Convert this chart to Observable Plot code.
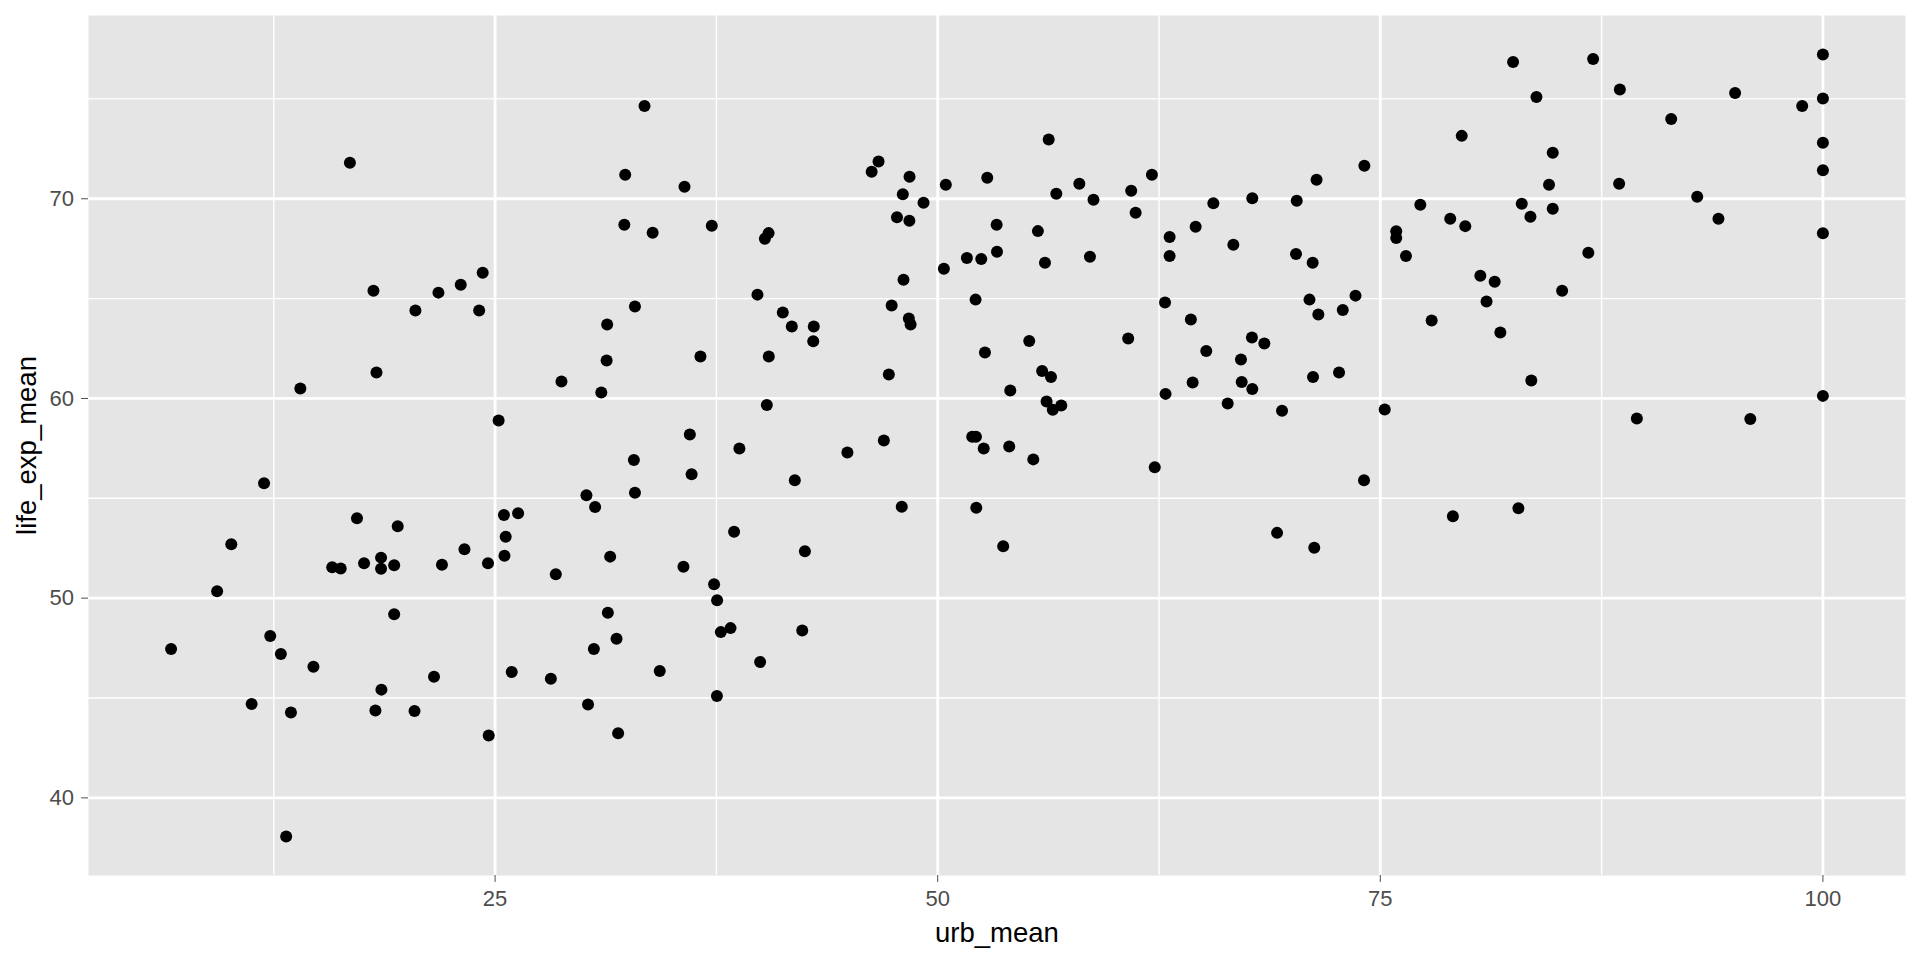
<!DOCTYPE html>
<html>
<head>
<meta charset="utf-8">
<script src="https://cdn.jsdelivr.net/npm/d3@7"></script>
<script src="https://cdn.jsdelivr.net/npm/@observablehq/plot@0.6"></script>
<style>
  html, body { margin: 0; padding: 0; background: #ffffff; }
  #chart svg { display: block; font-family: "Liberation Sans", Arial, sans-serif; }
</style>
</head>
<body>
<div id="chart"></div>
<script>
const urb_mean = [
  6.7, 9.3, 10.1, 11.25, 11.95, 12.3, 12.9, 13.2, 13.47, 14.0,
  14.74, 15.8, 16.28, 16.8, 17.2, 17.6, 18.13, 18.24, 18.3, 18.56,
  18.56, 18.58, 19.3, 19.3, 19.5, 20.5, 20.45, 21.55, 21.8, 22.0,
  23.06, 23.27, 24.3, 24.1, 24.6, 24.64, 25.2, 25.5, 25.53, 25.6,
  25.94, 26.3, 28.15, 28.43, 28.75, 30.16, 30.25, 30.58, 30.65, 31.0,
  31.3, 31.33, 31.37, 31.5, 31.86, 31.95, 32.3, 32.35, 32.84, 32.9,
  32.9, 33.44, 33.9, 34.3, 35.7, 35.64, 36.0, 36.1, 36.6, 37.24,
  37.37, 37.53, 37.54, 37.75, 38.3, 38.5, 38.8, 39.82, 39.97, 40.24,
  40.45, 40.35, 40.46, 41.25, 41.76, 41.93, 42.35, 42.5, 43.0, 42.97,
  44.9, 46.27, 46.66, 46.96, 47.4, 47.24, 47.7, 48.03, 48.07, 47.97,
  48.41, 48.37, 48.47, 48.4, 49.2, 50.35, 50.46, 51.65, 51.95, 52.16,
  52.14, 52.18, 52.46, 52.6, 52.67, 52.8, 53.33, 53.35, 53.7, 54.04,
  54.1, 55.17, 55.4, 55.66, 55.9, 56.06, 56.15, 56.27, 56.4, 56.5,
  56.7, 56.98, 58.0, 58.6, 58.8, 60.76, 60.93, 61.18, 62.1, 62.26,
  62.84, 62.87, 63.1, 63.1, 64.3, 64.4, 64.57, 65.17, 65.57, 66.38,
  66.7, 67.13, 67.17, 67.77, 67.77, 67.75, 68.45, 69.17, 69.45, 70.28,
  70.24, 71.0, 71.18, 71.2, 71.27, 71.4, 71.5, 72.67, 72.88, 73.6,
  74.1, 74.08, 75.25, 75.9, 75.9, 76.45, 77.26, 77.9, 79.1, 78.95,
  79.6, 79.8, 80.65, 81.0, 81.46, 81.78, 82.5, 82.8, 82.99, 83.48,
  83.53, 83.82, 84.53, 84.74, 84.74, 85.27, 86.75, 87.02, 88.53, 88.49,
  89.49, 91.43, 92.9, 94.1, 95.04, 95.9, 98.83, 100, 100, 100,
  100, 100, 100
];
const life_exp_mean = [
  47.45, 50.35, 52.7, 44.7, 55.75, 48.1, 47.2, 38.07, 44.27, 60.5,
  46.57, 51.55, 51.48, 71.8, 54.0, 51.75, 65.4, 44.37, 61.3, 52.03,
  51.47, 45.42, 51.65, 49.2, 53.6, 64.4, 44.35, 46.07, 65.3, 51.67,
  65.7, 52.45, 66.3, 64.4, 51.75, 43.12, 58.9, 54.17, 52.12, 53.08,
  46.3, 54.25, 45.97, 51.2, 60.85, 55.15, 44.68, 47.45, 54.57, 60.3,
  61.9, 63.7, 49.27, 52.08, 47.97, 43.23, 68.7, 71.2, 56.92, 55.28,
  64.6, 74.65, 68.3, 46.35, 70.6, 51.57, 58.2, 56.2, 62.1, 68.65,
  50.7, 45.1, 49.9, 48.3, 48.5, 53.33, 57.5, 65.2, 46.8, 68.0,
  68.28, 59.67, 62.1, 64.3, 63.6, 55.9, 48.38, 52.35, 63.6, 62.87,
  57.3, 71.35, 71.87, 57.9, 64.65, 61.2, 69.07, 70.23, 65.95, 54.58,
  71.1, 64.0, 63.7, 68.9, 69.8, 66.5, 70.7, 67.03, 58.08, 58.08,
  64.95, 54.53, 66.98, 57.5, 62.3, 71.05, 68.7, 67.35, 52.6, 57.6,
  60.4, 62.88, 56.95, 68.38, 61.38, 66.8, 59.85, 72.97, 61.07, 59.43,
  70.25, 59.65, 70.75, 67.1, 69.95, 63.0, 70.4, 69.3, 71.2, 56.55,
  64.8, 60.23, 67.13, 68.08, 63.95, 60.8, 68.6, 62.38, 69.77, 59.75,
  67.7, 61.95, 60.83, 60.47, 70.03, 63.05, 62.75, 53.27, 59.38, 69.9,
  67.23, 64.95, 66.8, 61.08, 52.53, 70.95, 64.2, 61.3, 64.43, 65.15,
  71.65, 55.9, 59.45, 68.37, 68.03, 67.13, 69.7, 63.9, 54.1, 69.0,
  73.15, 68.63, 66.15, 64.85, 65.85, 63.3, 76.85, 54.5, 69.75, 69.1,
  60.9, 75.1, 70.7, 72.3, 69.5, 65.4, 67.3, 77.0, 75.47, 70.75,
  59.0, 74.0, 70.1, 69.0, 75.3, 58.97, 74.65, 77.22, 75.02, 72.8,
  71.43, 68.27, 60.13
];
const xTicks = [25, 50, 75, 100];
const xMinor = [12.5, 37.5, 62.5, 87.5];
const yTicks = [40, 50, 60, 70];
const yMinor = [45, 55, 65, 75];
const xTitle = "urb_mean";
const yTitle = "life_exp_mean";

const data = urb_mean.map((u, i) => ({urb_mean: u, life_exp_mean: life_exp_mean[i]}));

const xr = d3.extent(urb_mean), yr = d3.extent(life_exp_mean);
const xpad = (xr[1] - xr[0]) * 0.05, ypad = (yr[1] - yr[0]) * 0.05;

const chart = Plot.plot({
  width: 1920,
  height: 960,
  marginLeft: 88,
  marginRight: 15,
  marginTop: 15,
  marginBottom: 85,
  style: {background: "#ffffff", fontFamily: "'Liberation Sans', Arial, sans-serif"},
  x: {domain: [xr[0] - xpad, xr[1] + xpad]},
  y: {domain: [yr[0] - ypad, yr[1] + ypad]},
  marks: [
    Plot.frame({fill: "#E5E5E5", stroke: "none"}),
    Plot.ruleX(xMinor, {stroke: "#ffffff", strokeWidth: 1.4}),
    Plot.ruleY(yMinor, {stroke: "#ffffff", strokeWidth: 1.4}),
    Plot.ruleX(xTicks, {stroke: "#ffffff", strokeWidth: 2.8}),
    Plot.ruleY(yTicks, {stroke: "#ffffff", strokeWidth: 2.8}),
    Plot.dot(data, {x: "urb_mean", y: "life_exp_mean", r: 6, fill: "#000000", stroke: "none"}),
    Plot.axisX({ticks: xTicks, tickSize: 6.9, tickPadding: 8, fontSize: 22, color: "#4D4D4D", label: null}),
    Plot.axisY({ticks: yTicks, tickSize: 6.9, tickPadding: 7.5, fontSize: 22, color: "#4D4D4D", label: null}),
    Plot.text([xTitle], {text: d => d, frameAnchor: "bottom", textAnchor: "middle", lineAnchor: "middle", dy: 58, fontSize: 27.5, fill: "#000000"}),
    Plot.text([yTitle], {text: d => d, frameAnchor: "left", textAnchor: "middle", lineAnchor: "middle", dx: -61, rotate: -90, fontSize: 27.5, fill: "#000000"})
  ]
});
document.getElementById("chart").appendChild(chart);
</script>
</body>
</html>
